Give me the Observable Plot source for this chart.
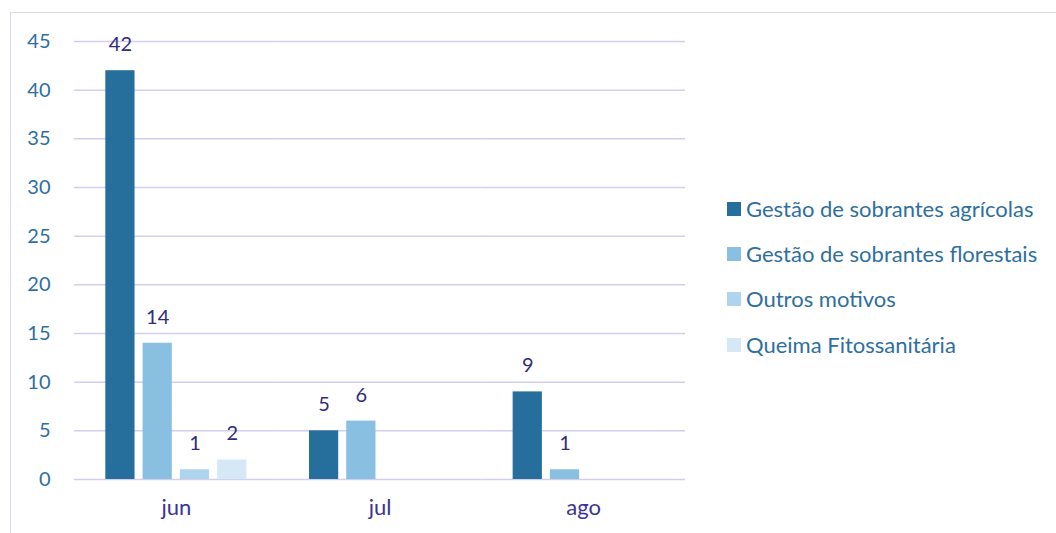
<!DOCTYPE html>
<html>
<head>
<meta charset="utf-8">
<script src="https://cdn.jsdelivr.net/npm/d3@7"></script>
<script src="https://cdn.jsdelivr.net/npm/@observablehq/plot@0.6"></script>
<style>
  html, body { margin: 0; padding: 0; background: #fff; }
  #wrap { position: relative; width: 1056px; height: 533px; overflow: hidden; font-family: Lato, "Open Sans", sans-serif; }
  #frame { position: absolute; left: 10px; top: 12px; width: 1100px; height: 600px; border-top: 1.5px solid #d9d5f2; border-left: 1.5px solid #d9d5f2; box-sizing: border-box; }
  #legend { position: absolute; left: 727px; top: 186px; }
  .item { display: flex; align-items: center; height: 45.3px; line-height: 24px; font-size: 22px; color: #2e6fa0; white-space: nowrap; }
  .sw { width: 14px; height: 14px; margin-right: 5px; flex: none; }
</style>
</head>
<body>
<div id="wrap">
  <div id="frame"></div>
  <div id="chart"></div>
  <div id="legend"></div>
</div>
<script>
const months = ["jun", "jul", "ago"];
const series = ["Gestão de sobrantes agrícolas", "Gestão de sobrantes florestais", "Outros motivos", "Queima Fitossanitária"];
const colors = ["#266e9c", "#89bfe1", "#afd4ed", "#d6e8f5"];
const agricolas = [42, 5, 9];
const florestais = [14, 6, 1];
const outros = [1, 0, 0];
const queima = [2, 0, 0];
const yTicks = [0, 5, 10, 15, 20, 25, 30, 35, 40, 45];

const valuesBySeries = [agricolas, florestais, outros, queima];
const data = [];
months.forEach((m, i) => {
  series.forEach((s, j) => {
    const v = valuesBySeries[j][i];
    if (v > 0) data.push({month: m, series: s, value: v});
  });
});

const plot = Plot.plot({
  width: 1056,
  height: 533,
  marginLeft: 74,
  marginRight: 371,
  marginTop: 41,
  marginBottom: 54,
  style: {fontFamily: "Lato, 'Open Sans', sans-serif", fontSize: "20px", background: "transparent"},
  fx: {domain: months, padding: 0, label: null, axis: null, round: false},
  x: {domain: series, paddingInner: 0.216, paddingOuter: 0.84, axis: null, round: false},
  y: {domain: [0, 45], ticks: yTicks, label: null, axis: null},
  color: {domain: series, range: colors},
  marks: [
    Plot.gridY(yTicks, {stroke: "#d3cdf0", strokeOpacity: 1, strokeWidth: 1.5}),
    Plot.axisY(yTicks, {tickSize: 0, tickPadding: 24, label: null, fill: "#2e6fa0", fontSize: 20}),
    Plot.axisFx({anchor: "bottom", tickSize: 0, tickPadding: 20, label: null, fill: "#3a3495", fontSize: 22}),
    Plot.barY(data, {fx: "month", x: "series", y: "value", fill: "series"}),
    Plot.text(data, {fx: "month", x: "series", y: "value", text: d => String(d.value), dy: -26, fill: "#302b80", fontSize: 20})
  ]
});
document.getElementById("chart").appendChild(plot);

const legend = document.getElementById("legend");
series.forEach((s, j) => {
  const item = document.createElement("div");
  item.className = "item";
  const sw = document.createElement("span");
  sw.className = "sw";
  sw.style.background = colors[j];
  const t = document.createElement("span");
  t.textContent = s;
  item.appendChild(sw);
  item.appendChild(t);
  legend.appendChild(item);
});
</script>
</body>
</html>
